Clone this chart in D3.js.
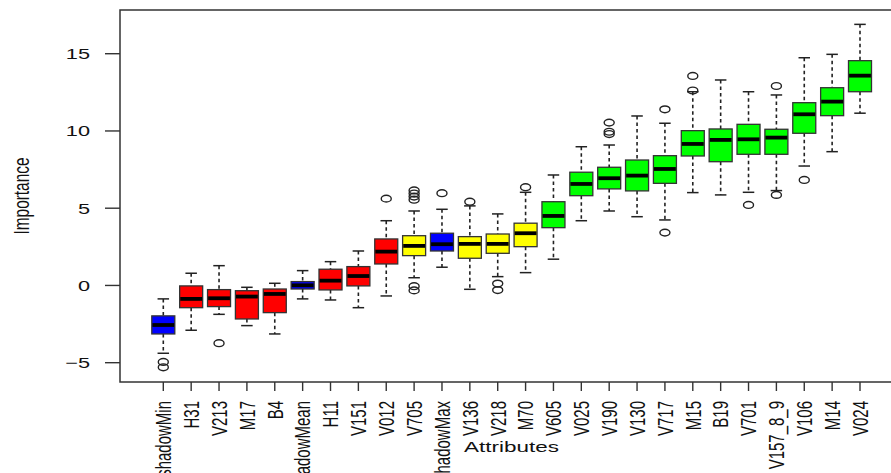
<!DOCTYPE html>
<html>
<head>
<meta charset="utf-8">
<script src="https://cdn.jsdelivr.net/npm/d3@7"></script>
<style>
  body { margin: 0; background: #fff; }
  text { font-family: "Liberation Sans", Arial, sans-serif; fill: #111; }
</style>
</head>
<body>
<svg id="boxChart" width="891" height="473"></svg>
<script>
// attribute names, left to right
var names = ["shadowMin","H31","V213","M17","B4","shadowMean","H11","V151","V012","V705",
  "shadowMax","V136","V218","M70","V605","V025","V190","V130","V717","M15","B19","V701",
  "V157_8_9","V106","M14","V024"]
// decision per attribute
var decision = ["shadow","rejected","rejected","rejected","rejected","shadow","rejected","rejected","rejected","tentative",
  "shadow","tentative","tentative","tentative","confirmed","confirmed","confirmed","confirmed","confirmed","confirmed","confirmed","confirmed",
  "confirmed","confirmed","confirmed","confirmed"]
var lowWhisker = [-4.39,-2.9,-1.87,-2.6,-3.14,-0.87,-0.94,-1.44,-0.68,0.5,
  1.18,-0.25,0.57,0.83,1.7,4.19,4.82,4.45,4.24,6.01,5.86,6.03,6.14,7.73,8.66,11.15]
var q1 = [-3.14,-1.44,-1.37,-2.17,-1.76,-0.23,-0.29,-0.03,1.39,1.93,
  2.23,1.76,2.08,2.51,3.74,5.81,6.25,6.12,6.61,8.38,8.01,8.49,8.49,9.85,10.99,12.54]
var medians = [-2.56,-0.87,-0.83,-0.72,-0.55,0.01,0.31,0.61,2.19,2.56,
  2.67,2.69,2.69,3.38,4.5,6.57,6.94,7.11,7.54,9.16,9.42,9.46,9.57,11.08,11.9,13.58]
var q3 = [-1.97,-0.03,-0.27,-0.34,-0.23,0.25,1.05,1.22,3.01,3.22,
  3.38,3.16,3.33,4.03,5.42,7.33,7.65,8.12,8.4,10.02,10.13,10.43,10.11,11.83,12.8,14.55]
var highWhisker = [-0.87,0.79,1.28,-0.12,0.14,0.96,1.54,2.23,4.19,4.82,
  4.93,5.15,4.63,6.03,7.15,8.98,9.09,10.97,10.5,12.54,13.3,12.54,12.33,14.74,14.96,16.9]
var outliers = [[-4.95,-5.3],[],[-3.74],[],[],[],[],[],[5.62],[6.15,5.95,5.75,5.55,-0.05,-0.32],
  [5.97],[5.42],[0.12,-0.3],[6.36],[],[],[10.54,9.95,9.8],[],[11.4,3.42],[13.56,12.62],[],[5.21],
  [12.91,5.86],[6.83],[],[]]
var yTicks = [-5, 0, 5, 10, 15]

var colorOf = {shadow: "#0000ff", rejected: "#ff0000", tentative: "#ffff00", confirmed: "#00ff00"}

var svg = d3.select("#boxChart"),
  margin = {top: 10, left: 120, bottom: 91, right: -12},
  width = +svg.attr("width") - margin.left - margin.right,
  height = +svg.attr("height") - margin.top - margin.bottom;

var stretch = 1.45   // the picture is wider than tall
var boxW = 23

var x = d3.scalePoint().domain(names).range([163.3 - margin.left, 860 - margin.left]),
  y = d3.scaleLinear().domain([-6.25, 17.83]).range([height, 0]);

var g = svg.append("g").attr("transform", "translate(" + margin.left + "," + margin.top + ")");

var data = names.map(function(n, i){
  return {name: n, color: colorOf[decision[i]], lo: lowWhisker[i], q1: q1[i], med: medians[i],
    q3: q3[i], hi: highWhisker[i], out: outliers[i]}
})

var boxes = g.selectAll(".box").data(data).enter().append("g").attr("class", "box")

// whiskers
boxes.append("line")
  .attr("x1", d => x(d.name)).attr("x2", d => x(d.name))
  .attr("y1", d => y(d.hi)).attr("y2", d => y(d.q3))
  .attr("stroke", "#222").attr("stroke-width", 1.6).attr("stroke-dasharray", "3.5,3")
boxes.append("line")
  .attr("x1", d => x(d.name)).attr("x2", d => x(d.name))
  .attr("y1", d => y(d.q1)).attr("y2", d => y(d.lo))
  .attr("stroke", "#222").attr("stroke-width", 1.6).attr("stroke-dasharray", "3.5,3")
// staples
boxes.selectAll(".cap").data(d => [d.lo, d.hi].map(v => ({name: d.name, v: v})))
  .enter().append("line").attr("class", "cap")
  .attr("x1", d => x(d.name) - boxW / 4).attr("x2", d => x(d.name) + boxW / 4)
  .attr("y1", d => y(d.v)).attr("y2", d => y(d.v))
  .attr("stroke", "#222").attr("stroke-width", 1.5)

boxes.append("rect")
  .attr("x", d => x(d.name) - boxW / 2)
  .attr("y", d => y(d.q3))
  .attr("width", boxW)
  .attr("height", d => y(d.q1) - y(d.q3))
  .attr("fill", d => d.color)
  .attr("stroke", "#333").attr("stroke-width", 1.3)

boxes.append("line")
  .attr("x1", d => x(d.name) - boxW / 2 + 0.6).attr("x2", d => x(d.name) + boxW / 2 - 0.6)
  .attr("y1", d => y(d.med)).attr("y2", d => y(d.med))
  .attr("stroke", "#000").attr("stroke-width", 3.8)

boxes.selectAll(".outlier").data(d => d.out.map(v => ({name: d.name, v: v})))
  .enter().append("ellipse").attr("class", "outlier")
  .attr("cx", d => x(d.name)).attr("cy", d => y(d.v))
  .attr("rx", 5).attr("ry", 3.4)
  .attr("fill", "none").attr("stroke", "#222").attr("stroke-width", 1.4)

// frame
g.append("rect").attr("x", 0).attr("y", 0).attr("width", width).attr("height", height)
  .attr("fill", "none").attr("stroke", "#333").attr("stroke-width", 1.5)

// y axis
var yAxis = g.append("g")
yAxis.selectAll("line").data(yTicks).enter().append("line")
  .attr("x1", -15).attr("x2", 0).attr("y1", d => y(d)).attr("y2", d => y(d))
  .attr("stroke", "#333").attr("stroke-width", 1.4)
yAxis.selectAll("text").data(yTicks).enter().append("text")
  .attr("transform", d => "translate(-30," + y(d) + ") scale(" + stretch + ",1)")
  .attr("text-anchor", "end").attr("dy", "0.36em")
  .attr("font-size", 15)
  .text(d => d3.format("d")(d))

// x axis
var xAxis = g.append("g").attr("transform", "translate(0," + height + ")")
xAxis.selectAll("line").data(names).enter().append("line")
  .attr("x1", d => x(d)).attr("x2", d => x(d)).attr("y1", 0).attr("y2", 9)
  .attr("stroke", "#333").attr("stroke-width", 1.4)
xAxis.selectAll("text").data(names).enter().append("text")
  .attr("transform", d => "translate(" + (x(d) + 7.8) + ",19) rotate(-90) scale(1," + stretch + ")")
  .attr("text-anchor", "end")
  .attr("font-size", 15)
  .text(d => d)

svg.append("text")
  .attr("transform", "translate(" + (margin.left + width / 2) + ",452) scale(" + stretch + ",1)")
  .attr("text-anchor", "middle").attr("font-size", 15.5)
  .text("Attributes")

svg.append("text")
  .attr("transform", "translate(28.5," + (margin.top + height / 2) + ") rotate(-90) scale(1," + stretch + ")")
  .attr("text-anchor", "middle").attr("font-size", 15.4)
  .text("Importance")
</script>
</body>
</html>
